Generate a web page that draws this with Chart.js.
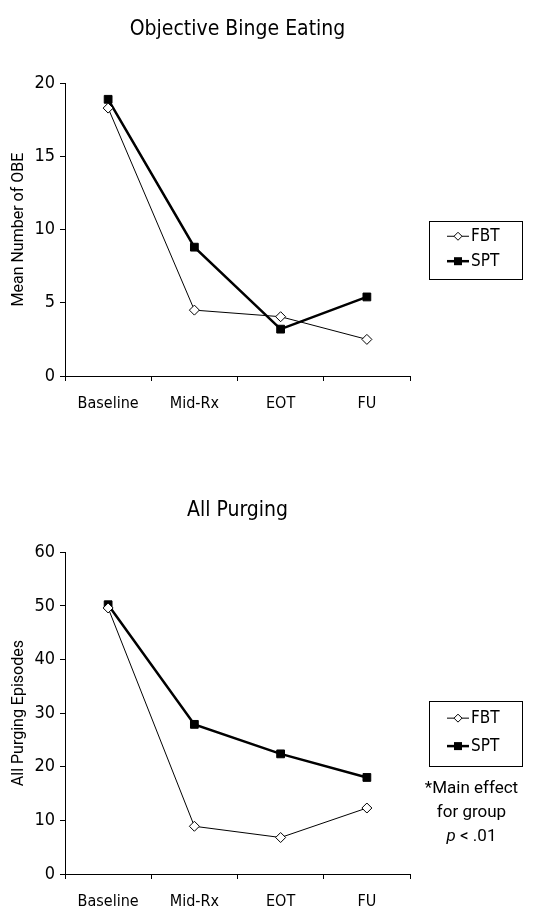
<!DOCTYPE html>
<html>
<head>
<meta charset="utf-8">
<script src="https://cdn.jsdelivr.net/npm/chart.js@4.4.1/dist/chart.umd.min.js"></script>
<style>
  html, body { margin: 0; padding: 0; background: #fff; overflow: hidden; }
  body { width: 534px; height: 912px; position: relative; }
  canvas { position: absolute; left: 0; }
  #obe-chart { top: 0; }
  #purge-chart { top: 460px; }
</style>
</head>
<body>
<canvas id="obe-chart" width="534" height="416"></canvas>
<canvas id="purge-chart" width="534" height="450"></canvas>
<script>
// Time points and group means
const timePoints = ['Baseline', 'Mid-Rx', 'EOT', 'FU'];
const groups = ['FBT', 'SPT'];

const obeFBT = [18.3, 4.5, 4.05, 2.5];
const obeSPT = [18.9, 8.8, 3.2, 5.4];
const obeMax = 20;
const obeStep = 5;

const purgeFBT = [49.6, 8.9, 6.8, 12.3];
const purgeSPT = [50.2, 27.9, 22.4, 18.0];
const purgeMax = 60;
const purgeStep = 10;

const noteLines = ['*Main effect', 'for group', 'p < .01'];

const FONT = '"DejaVu Sans Condensed", "Liberation Sans Narrow", sans-serif';
const NOTE_FONT = 'Roboto, "Liberation Sans", sans-serif';

Chart.defaults.font.family = FONT;
Chart.defaults.color = '#000';

// Boxed legend to the right of the plot, drawn by hand
const boxLegend = {
    id: 'boxLegend',
    afterDraw(chart, args, opts) {
        const ctx = chart.ctx;
        const area = chart.chartArea;
        const x0 = area.right + 19;
        const w = 93;
        const h = opts.height;
        const y0 = (area.top + area.bottom) / 2 + 20 - h / 2;
        ctx.save();
        ctx.strokeStyle = '#000';
        ctx.lineWidth = 1;
        ctx.strokeRect(x0 + 0.5, Math.round(y0) + 0.5, w, h);

        chart.data.datasets.forEach((ds, i) => {
            const y = y0 + h * (i === 0 ? 0.27 : 0.70);
            const lx = x0 + 18;
            const cx = lx + 11;
            ctx.strokeStyle = '#000';
            ctx.lineWidth = ds.borderWidth;
            ctx.beginPath();
            ctx.moveTo(lx, y);
            ctx.lineTo(lx + 22, y);
            ctx.stroke();
            ctx.lineWidth = 1;
            if (ds.pointStyle === 'rect') {
                ctx.fillStyle = '#000';
                ctx.fillRect(cx - 4, y - 4, 8, 8);
            } else {
                ctx.fillStyle = '#fff';
                ctx.beginPath();
                ctx.moveTo(cx, y - 4);
                ctx.lineTo(cx + 4, y);
                ctx.lineTo(cx, y + 4);
                ctx.lineTo(cx - 4, y);
                ctx.closePath();
                ctx.fill();
                ctx.stroke();
            }
            ctx.fillStyle = '#000';
            ctx.font = '17px ' + FONT;
            ctx.textBaseline = 'middle';
            ctx.textAlign = 'left';
            ctx.fillText(ds.label, lx + 24, y);
        });

        // footnote under the legend
        if (opts.note) {
            const cx = x0 + w / 2 - 4;
            let y = y0 + h + 23;
            ctx.textBaseline = 'middle';
            const size = 17;
            opts.note.forEach((line) => {
                if (line.startsWith('p ')) {
                    const rest = line.slice(1);
                    ctx.font = size + 'px ' + NOTE_FONT;
                    const restW = ctx.measureText(rest).width;
                    ctx.font = 'italic ' + size + 'px ' + NOTE_FONT;
                    const pW = ctx.measureText('p').width;
                    const startX = cx - (pW + restW) / 2;
                    ctx.textAlign = 'left';
                    ctx.fillText('p', startX, y);
                    ctx.font = size + 'px ' + NOTE_FONT;
                    ctx.fillText(rest, startX + pW, y);
                } else {
                    ctx.textAlign = 'center';
                    ctx.font = size + 'px ' + NOTE_FONT;
                    ctx.fillText(line, cx, y);
                }
                y += 24;
            });
        }
        ctx.restore();
    }
};

function makeChart(canvasId, title, titlePad, yTitle, fbt, spt, yMax, yStep, xHeight, legendOpts) {
    const ctx = document.getElementById(canvasId);
    return new Chart(ctx, {
        type: 'line',
        data: {
            labels: timePoints,
            datasets: [{
                label: groups[0],
                data: fbt,
                borderColor: '#000',
                borderWidth: 1,
                pointStyle: 'rectRot',
                pointRadius: 5,
                pointBackgroundColor: '#fff',
                pointBorderColor: '#000',
                pointBorderWidth: 1,
                tension: 0
            }, {
                label: groups[1],
                data: spt,
                borderColor: '#000',
                borderWidth: 2.5,
                pointStyle: 'rect',
                pointRadius: 5.5,
                pointBackgroundColor: '#000',
                pointBorderColor: '#000',
                pointBorderWidth: 1,
                tension: 0
            }]
        },
        options: {
            responsive: false,
            animation: false,
            layout: { padding: { left: 0, right: 124, top: 0, bottom: 0 } },
            plugins: {
                legend: { display: false },
                tooltip: { enabled: false },
                title: {
                    display: true,
                    fullSize: false,
                    text: title,
                    color: '#000',
                    font: { size: 21, weight: 'normal', family: FONT },
                    padding: titlePad
                },
                boxLegend: legendOpts
            },
            scales: {
                x: {
                    offset: true,
                    grid: {
                        offset: true,
                        drawOnChartArea: false,
                        drawTicks: true,
                        tickLength: 5,
                        color: '#000'
                    },
                    border: { color: '#000', width: 1 },
                    ticks: { color: '#000', font: { size: 16 }, padding: 13, maxRotation: 0 },
                    afterFit(scale) { scale.height = xHeight; }
                },
                y: {
                    min: 0,
                    max: yMax,
                    grid: {
                        drawOnChartArea: false,
                        tickLength: 5,
                        color: '#000'
                    },
                    border: { color: '#000', width: 1 },
                    ticks: { stepSize: yStep, color: '#000', font: { size: 18 }, padding: 5 },
                    title: {
                        display: true,
                        text: yTitle,
                        color: '#000',
                        font: { size: 16, family: NOTE_FONT },
                        padding: { top: 9, bottom: 4 }
                    },
                    afterFit(scale) { scale.width = 65; }
                }
            }
        },
        plugins: [boxLegend]
    });
}

document.addEventListener('DOMContentLoaded', () => {
    makeChart('obe-chart', 'Objective Binge Eating', { top: 17, bottom: 41 },
        'Mean Number of OBE', obeFBT, obeSPT, obeMax, obeStep, 40,
        { height: 58 });
    makeChart('purge-chart', 'All Purging', { top: 38, bottom: 29 },
        'All Purging Episodes', purgeFBT, purgeSPT, purgeMax, purgeStep, 36,
        { height: 65, note: noteLines });
});
</script>
</body>
</html>
